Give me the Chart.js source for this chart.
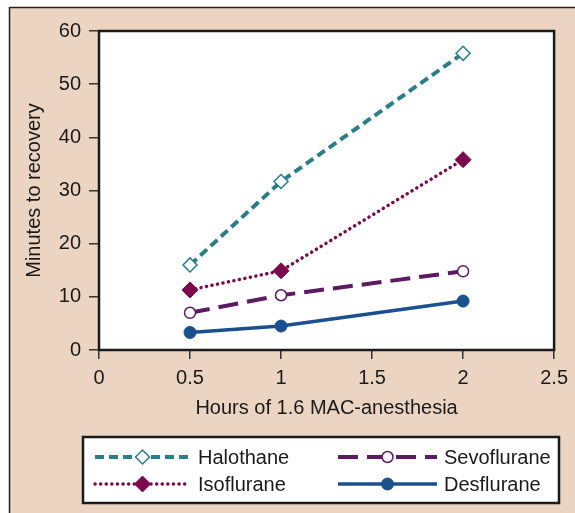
<!DOCTYPE html>
<html>
<head>
<meta charset="utf-8">
<script src="https://cdn.jsdelivr.net/npm/chart.js@4/dist/chart.umd.min.js"></script>
<style>
  html, body { margin: 0; padding: 0; background: #ffffff; }
  #chart { display: block; }
</style>
</head>
<body>
<canvas id="chart" width="575" height="513"></canvas>
<script>
// values
const hours = [0.5, 1, 2];
const halothane = [16, 31.7, 55.8];
const isoflurane = [11.3, 14.9, 35.8];
const sevoflurane = [7, 10.3, 14.8];
const desflurane = [3.3, 4.5, 9.2];
const seriesNames = ['Halothane', 'Isoflurane', 'Sevoflurane', 'Desflurane'];
const xTicks = [0, 0.5, 1, 1.5, 2, 2.5];
const yTicks = [0, 10, 20, 30, 40, 50, 60];
const xTitle = 'Hours of 1.6 MAC-anesthesia';
const yTitle = 'Minutes to recovery';

const FONT = '"Liberation Sans", Arial, Helvetica, sans-serif';
const beige = '#ebd4c1';
const ink = '#1a1a1a';

const colors = ['#2b7d88', '#7b0a4c', '#5c1a63', '#1b4f8e'];

function toPoints(vals) {
  return hours.map((h, i) => ({ x: h, y: vals[i] }));
}

const datasets = [
  {
    label: seriesNames[0], data: toPoints(halothane),
    borderColor: colors[0], borderWidth: 4, borderDash: [9, 5],
    pointStyle: 'rectRot', pointRadius: 7, pointBackgroundColor: '#fff',
    pointBorderColor: colors[0], pointBorderWidth: 1.5
  },
  {
    label: seriesNames[1], data: toPoints(isoflurane),
    borderColor: colors[1], borderWidth: 3.5, borderDash: [0.1, 5.5], borderCapStyle: 'round',
    pointStyle: 'rectRot', pointRadius: 8, pointBackgroundColor: colors[1],
    pointBorderColor: colors[1], pointBorderWidth: 1
  },
  {
    label: seriesNames[2], data: toPoints(sevoflurane),
    borderColor: colors[2], borderWidth: 4, borderDash: [20, 9],
    pointStyle: 'circle', pointRadius: 5.5, pointBackgroundColor: '#fff',
    pointBorderColor: colors[2], pointBorderWidth: 1.5
  },
  {
    label: seriesNames[3], data: toPoints(desflurane),
    borderColor: colors[3], borderWidth: 3.5, borderDash: [],
    pointStyle: 'circle', pointRadius: 6, pointBackgroundColor: colors[3],
    pointBorderColor: colors[3], pointBorderWidth: 1
  }
];

// background, frame and plot box
const framePlugin = {
  id: 'frame',
  beforeDraw(chart) {
    const ctx = chart.ctx;
    const a = chart.chartArea;
    ctx.save();
    ctx.fillStyle = '#fff';
    ctx.fillRect(0, 0, chart.width, chart.height);
    ctx.fillStyle = beige;
    ctx.fillRect(9, 7, chart.width, chart.height);
    ctx.strokeStyle = '#222';
    ctx.lineWidth = 1.5;
    ctx.beginPath();
    ctx.moveTo(9.5, chart.height);
    ctx.lineTo(9.5, 7.5);
    ctx.lineTo(chart.width, 7.5);
    ctx.stroke();
    ctx.fillStyle = '#fff';
    ctx.fillRect(a.left, a.top, a.right - a.left, a.bottom - a.top);
    ctx.restore();
  },
  afterDraw(chart) {
    const ctx = chart.ctx;
    const a = chart.chartArea;
    ctx.save();
    ctx.strokeStyle = ink;
    ctx.lineWidth = 2.5;
    ctx.strokeRect(a.left, a.top, a.right - a.left, a.bottom - a.top);
    ctx.restore();
  }
};

function drawMarker(ctx, ds, x, y) {
  ctx.save();
  ctx.setLineDash([]);
  ctx.fillStyle = ds.pointBackgroundColor;
  ctx.strokeStyle = ds.pointBorderColor;
  ctx.lineWidth = ds.pointBorderWidth;
  const r = ds.pointRadius;
  ctx.beginPath();
  if (ds.pointStyle === 'rectRot') {
    ctx.moveTo(x, y - r);
    ctx.lineTo(x + r, y);
    ctx.lineTo(x, y + r);
    ctx.lineTo(x - r, y);
    ctx.closePath();
  } else {
    ctx.arc(x, y, r, 0, Math.PI * 2);
  }
  ctx.fill();
  ctx.stroke();
  ctx.restore();
}

// legend box with long line samples
const legendPlugin = {
  id: 'bigLegend',
  afterDraw(chart) {
    const ctx = chart.ctx;
    const box = { x: 83, y: 437, w: 476, h: 66 };
    const slots = [
      { x0: 95, x1: 190, tx: 198, y: 457 },
      { x0: 95, x1: 190, tx: 198, y: 484 },
      { x0: 338, x1: 437, tx: 444, y: 457 },
      { x0: 338, x1: 437, tx: 444, y: 484 }
    ];
    ctx.save();
    ctx.fillStyle = '#fff';
    ctx.fillRect(box.x, box.y, box.w, box.h);
    ctx.strokeStyle = ink;
    ctx.lineWidth = 2.5;
    ctx.strokeRect(box.x, box.y, box.w, box.h);
    chart.data.datasets.forEach((ds, i) => {
      const s = slots[i];
      ctx.save();
      ctx.strokeStyle = ds.borderColor;
      ctx.lineWidth = ds.borderWidth;
      ctx.lineCap = ds.borderCapStyle || 'butt';
      ctx.setLineDash(ds.borderDash);
      ctx.beginPath();
      ctx.moveTo(s.x0, s.y);
      ctx.lineTo(s.x1, s.y);
      ctx.stroke();
      ctx.restore();
      drawMarker(ctx, ds, (s.x0 + s.x1) / 2, s.y);
      ctx.fillStyle = ink;
      ctx.font = '20px ' + FONT;
      ctx.textBaseline = 'middle';
      ctx.fillText(ds.label, s.tx, s.y + 1);
    });
    ctx.restore();
  }
};

new Chart(document.getElementById('chart'), {
  type: 'line',
  data: { datasets: datasets },
  options: {
    responsive: false,
    animation: false,
    events: [],
    layout: { padding: { left: 0, top: 31, right: 20, bottom: 0 } },
    plugins: { legend: { display: false }, tooltip: { enabled: false } },
    scales: {
      x: {
        type: 'linear', min: 0, max: 2.5,
        afterBuildTicks: s => { s.ticks = xTicks.map(v => ({ value: v })); },
        afterFit: s => { s.height = 163; },
        grid: { drawOnChartArea: false, drawTicks: true, tickLength: 9, color: '#333', lineWidth: 1.5 },
        border: { display: false },
        ticks: { color: ink, padding: 7, font: { family: FONT, size: 20 }, callback: v => String(v) },
        title: { display: true, text: xTitle, color: ink, padding: { top: 0, bottom: 93 }, font: { family: FONT, size: 20 } }
      },
      y: {
        type: 'linear', min: 0, max: 60,
        afterBuildTicks: s => { s.ticks = yTicks.map(v => ({ value: v })); },
        afterFit: s => { s.width = 99; },
        grid: { drawOnChartArea: false, drawTicks: true, tickLength: 10, color: '#333', lineWidth: 1.5 },
        border: { display: false },
        ticks: { color: ink, padding: 8, font: { family: FONT, size: 20 } },
        title: { display: true, text: yTitle, color: ink, padding: { top: 22, bottom: 0 }, font: { family: FONT, size: 20 } }
      }
    }
  },
  plugins: [framePlugin, legendPlugin]
});
</script>
</body>
</html>
